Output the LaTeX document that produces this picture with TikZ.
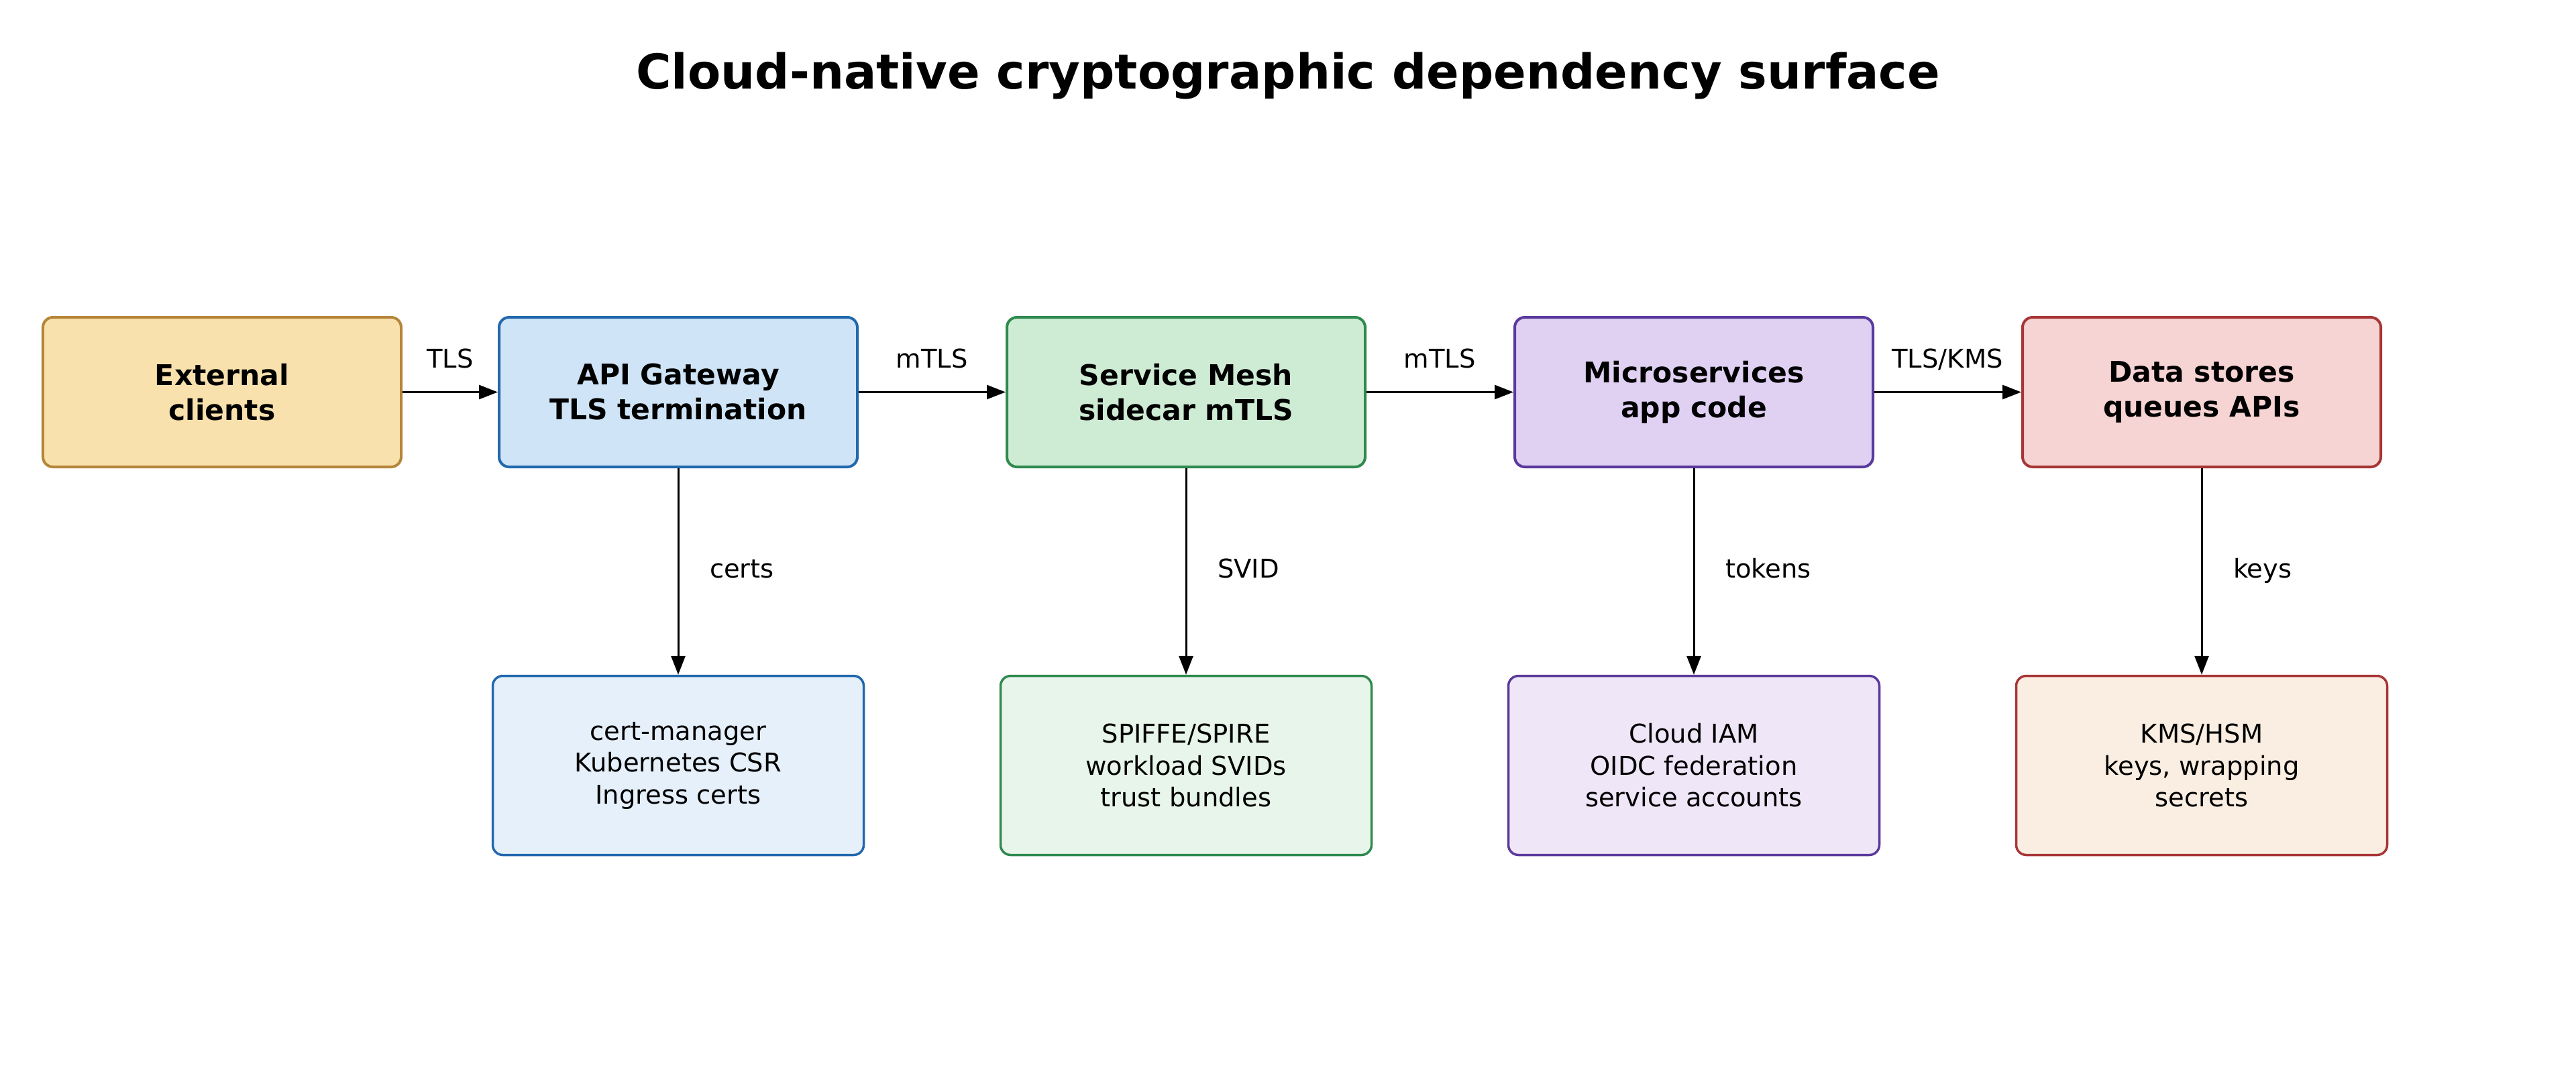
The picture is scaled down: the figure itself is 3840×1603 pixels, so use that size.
\documentclass[tikz,border=0pt]{standalone}
\usepackage{fontspec}
\setmainfont{DejaVu Sans}
\usetikzlibrary{arrows.meta}
\definecolor{extF}{HTML}{F8E1AC}\definecolor{extD}{HTML}{B5863A}
\definecolor{apiF}{HTML}{CFE4F6}\definecolor{apiD}{HTML}{2268AE}
\definecolor{mshF}{HTML}{CEEBD4}\definecolor{mshD}{HTML}{2F8A4F}
\definecolor{micF}{HTML}{E0D1F3}\definecolor{micD}{HTML}{5A3A9C}
\definecolor{datF}{HTML}{F7D4D4}\definecolor{datD}{HTML}{A83636}
\definecolor{apiL}{HTML}{E6F0FA}
\definecolor{mshL}{HTML}{E8F5EA}
\definecolor{micL}{HTML}{EFE6F8}
\definecolor{datL}{HTML}{FAEEE2}
\tikzset{
  topbox/.style={draw, line width=0.8pt, rounded corners=3pt, minimum width=106.8pt, minimum height=44.6pt, inner sep=0pt, align=center, font=\fontsize{8.5pt}{10.4pt}\selectfont\bfseries},
  botbox/.style={draw, line width=0.7pt, rounded corners=3pt, minimum width=110.6pt, minimum height=53.4pt, inner sep=0pt, align=center, font=\fontsize{7.7pt}{9.5pt}\selectfont},
  conn/.style={line width=0.6pt, -{Triangle[length=5.6pt,width=4.2pt]}},
  lbl/.style={font=\fontsize{7.7pt}{9.5pt}\selectfont, inner sep=0pt}
}
\begin{document}
\begin{tikzpicture}[x=0.2pt,y=-0.2pt]
\useasboundingbox[fill=white] (0,0) rectangle (3840,1603);
\node[font=\fontsize{14.35pt}{17pt}\selectfont\bfseries] (title) at (1920,113) {Cloud-native cryptographic dependency surface};
\node[topbox, fill=extF, draw=extD] (ext) at (331,584.5) {External\\clients};
\node[topbox, fill=apiF, draw=apiD] (api) at (1011,584.5) {API Gateway\\TLS termination};
\node[topbox, fill=mshF, draw=mshD] (msh) at (1768,584.5) {Service Mesh\\sidecar mTLS};
\node[topbox, fill=micF, draw=micD] (mic) at (2525,584.5) {Microservices\\app code};
\node[topbox, fill=datF, draw=datD] (dat) at (3282,584.5) {Data stores\\queues APIs};
\node[botbox, fill=apiL, draw=apiD] (cm) at (1011,1141) {cert-manager\\Kubernetes CSR\\Ingress certs};
\node[botbox, fill=mshL, draw=mshD] (sp) at (1768,1141) {SPIFFE/SPIRE\\workload SVIDs\\trust bundles};
\node[botbox, fill=micL, draw=micD] (iam) at (2525,1141) {Cloud IAM\\OIDC federation\\service accounts};
\node[botbox, fill=datL, draw=datD] (kms) at (3282,1141) {KMS/HSM\\keys, wrapping\\secrets};
\draw[conn] (ext) -- (api);
\draw[conn] (api) -- (msh);
\draw[conn] (msh) -- (mic);
\draw[conn] (mic) -- (dat);
\draw[conn] (api) -- (cm);
\draw[conn] (msh) -- (sp);
\draw[conn] (mic) -- (iam);
\draw[conn] (dat) -- (kms);
\node[lbl, anchor=base] (l1) at (671,548) {TLS};
\node[lbl, anchor=base] (l2) at (1389,548) {mTLS};
\node[lbl, anchor=base] (l3) at (2146,548) {mTLS};
\node[lbl, anchor=base] (l4) at (2903,548) {TLS/KMS};
\node[lbl, anchor=base west] (l5) at (1057,861) {certs};
\node[lbl, anchor=base west] (l6) at (1814,861) {SVID};
\node[lbl, anchor=base west] (l7) at (2571,861) {tokens};
\node[lbl, anchor=base west] (l8) at (3328,861) {keys};
\end{tikzpicture}
\end{document}
